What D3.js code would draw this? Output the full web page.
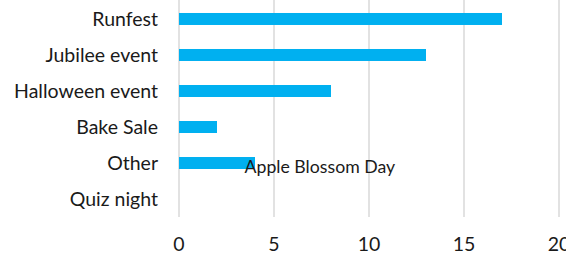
<!DOCTYPE html>
<html>
<head>
<meta charset="utf-8">
<script src="https://cdn.jsdelivr.net/npm/d3@7"></script>
<style>
  body { margin: 0; background: #fff; }
  text { font-family: Lato, "Liberation Sans", sans-serif; fill: #1a1a1a; }
</style>
</head>
<body>
<div id="chart"></div>
<script>
const categories = ['Runfest', 'Jubilee event', 'Halloween event', 'Bake Sale', 'Other', 'Quiz night'];
const values = [17, 13, 8, 2, 4, 0];
const xTicks = [0, 5, 10, 15, 20];
const annotations = [{ label: 'Apple Blossom Day', category: 'Other', value: 3.45 }];

const width = 566, height = 254;
const margin = { top: 1, right: 7, bottom: 37, left: 179 };

const svg = d3.select('#chart')
    .append('svg')
    .attr('width', width)
    .attr('height', height);

const x = d3.scaleLinear()
    .domain([0, 20])
    .range([margin.left, width - margin.right]);

const y = d3.scaleBand()
    .domain(categories)
    .range([margin.top, height - margin.bottom])
    .paddingInner(0.667)
    .paddingOuter(0.333);

// gridlines
svg.append('g')
    .selectAll('line')
    .data(xTicks)
    .join('line')
    .attr('x1', d => x(d))
    .attr('x2', d => x(d))
    .attr('y1', 0)
    .attr('y2', height - margin.bottom)
    .attr('stroke', '#d9d9d9')
    .attr('stroke-width', 1.5);

// bars
svg.append('g')
    .selectAll('rect')
    .data(values)
    .join('rect')
    .attr('x', x(0))
    .attr('y', (d, i) => y(categories[i]))
    .attr('width', d => x(d) - x(0))
    .attr('height', y.bandwidth())
    .attr('fill', '#00b0f0');

// category labels
svg.append('g')
    .selectAll('text')
    .data(categories)
    .join('text')
    .attr('x', margin.left - 21)
    .attr('y', d => y(d) + y.bandwidth() / 2)
    .attr('dy', '0.35em')
    .attr('text-anchor', 'end')
    .style('font-size', '19.5px')
    .text(d => d);

// x tick labels
svg.append('g')
    .selectAll('text')
    .data(xTicks)
    .join('text')
    .attr('x', d => x(d))
    .attr('y', 244)
    .attr('dy', '0.35em')
    .attr('text-anchor', 'middle')
    .style('font-size', '19.5px')
    .text(d => d);

// annotation
svg.append('g')
    .selectAll('text')
    .data(annotations)
    .join('text')
    .attr('x', d => x(d.value))
    .attr('y', d => y(d.category) + y.bandwidth() / 2 + 4)
    .attr('dy', '0.35em')
    .style('font-size', '17.7px')
    .text(d => d.label);
</script>
</body>
</html>
